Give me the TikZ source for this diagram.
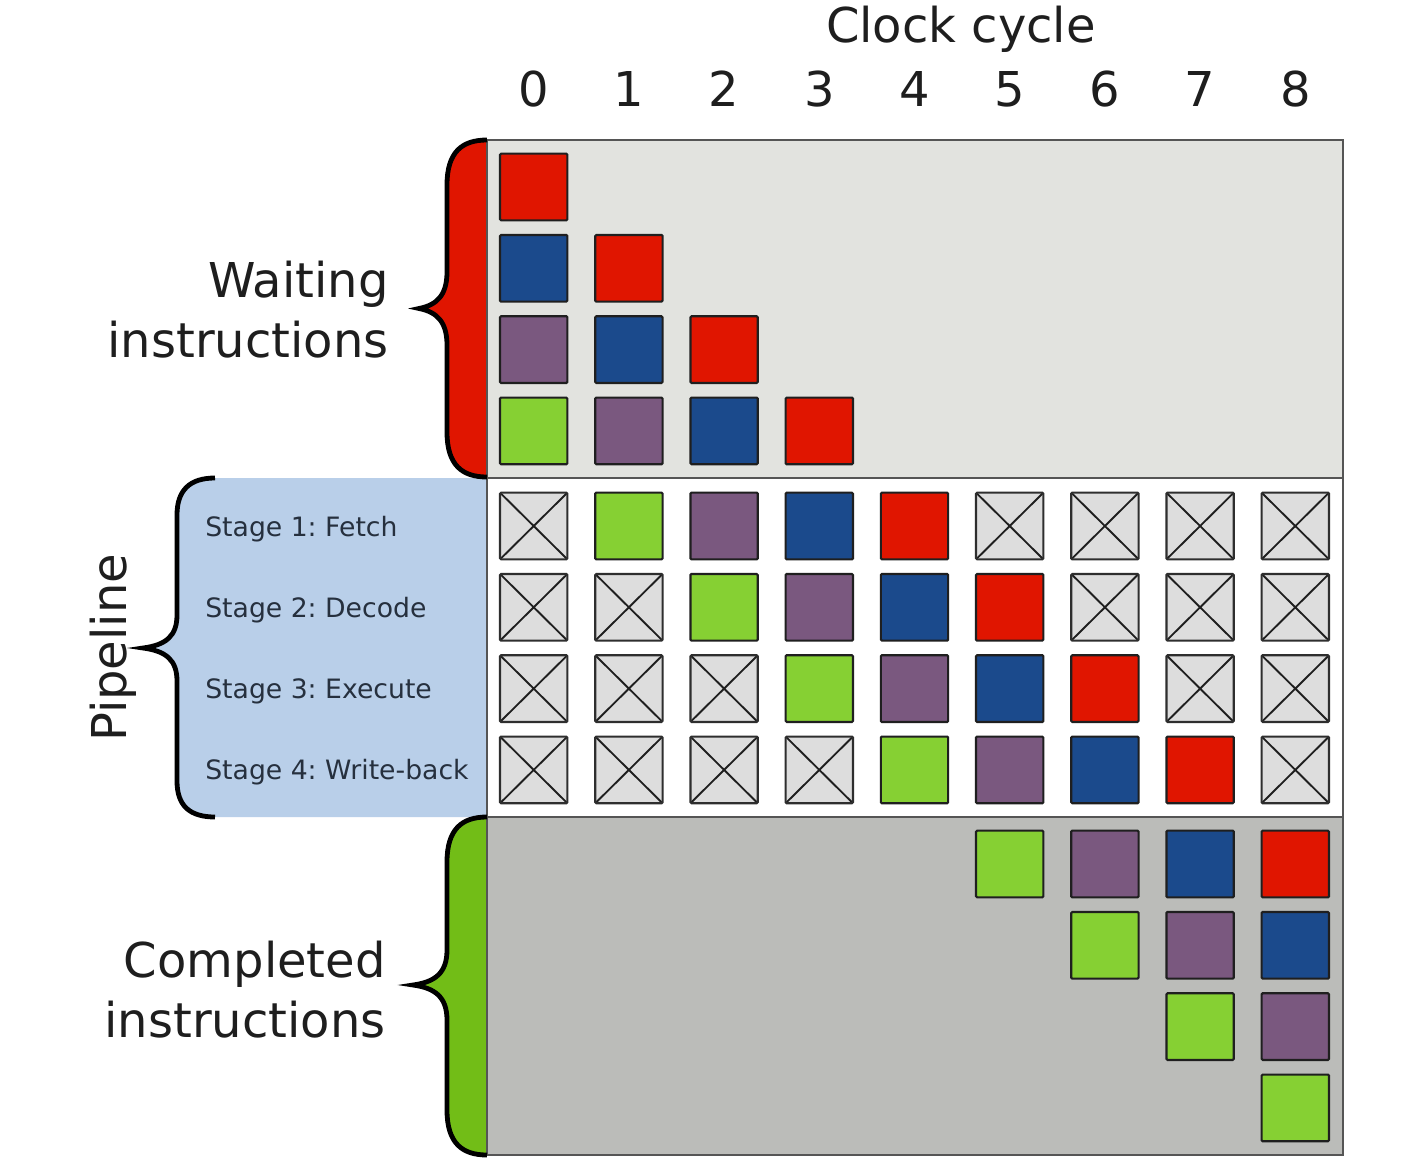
\documentclass[tikz,border=0pt]{standalone}
\usepackage{fontspec}
\setmainfont{DejaVu Sans}
\definecolor{cred}{HTML}{E01500}
\definecolor{cblue}{HTML}{1B4A8C}
\definecolor{cpurple}{HTML}{7A587F}
\definecolor{cgreen}{HTML}{86D033}
\definecolor{bracegreen}{HTML}{72BD17}
\definecolor{labelblue}{HTML}{B9CFE9}
\definecolor{waitbg}{HTML}{E2E3DF}
\definecolor{donebg}{HTML}{BBBCB9}
\definecolor{xbg}{HTML}{DDDDDD}
\definecolor{panelline}{HTML}{555555}
\definecolor{stagetext}{HTML}{26303E}
\definecolor{bigtext}{HTML}{1E1E1E}
\frenchspacing
\begin{document}
\begin{tikzpicture}[x=0.75pt,y=-0.75pt,
  cell/.style={draw=black!88, line width=1.6pt, minimum width=50.5pt, minimum height=50pt, inner sep=0pt, rounded corners=0.8pt},
  xcell/.style={cell, fill=xbg, draw=black!82,
    path picture={\draw[line width=1.4pt, black!88]
      (path picture bounding box.north west) -- (path picture bounding box.south east)
      (path picture bounding box.north east) -- (path picture bounding box.south west);}},
  panel/.style={draw=panelline, line width=2pt},
  bracestroke/.style={draw=black, line width=3.6pt},
  big/.style={font=\fontsize{36}{45}\selectfont, text=bigtext, inner sep=0pt},
  stagelbl/.style={font=\fontsize{20}{24}\selectfont, text=stagetext, inner sep=0pt, anchor=base west}]
\useasboundingbox (0,0) rectangle (1428,1174);
\fill[white] (0,0) rectangle (1428,1174);

% brace fills
\fill[cred] (487,140) .. controls (462,140) and (447,152) .. (447,185) -- (447,272)
  .. controls (447,295) and (437,305) .. (419,308.5)
  .. controls (437,312) and (447,322) .. (447,345) -- (447,432)
  .. controls (447,465) and (462,477) .. (487,477) -- cycle;
\fill[labelblue] (215,478) .. controls (190,478) and (177,490) .. (177,515) -- (177,615)
  .. controls (177,636) and (166,645) .. (143,648)
  .. controls (166,651) and (177,660) .. (177,681) -- (177,781)
  .. controls (177,806) and (190,817) .. (215,817) -- (487,817) -- (487,478) -- cycle;
\fill[bracegreen] (487,817) .. controls (462,817) and (447,829) .. (447,862) -- (447,950)
  .. controls (447,973) and (435,982) .. (413,985)
  .. controls (435,988) and (447,997) .. (447,1020) -- (447,1110)
  .. controls (447,1143) and (462,1155) .. (487,1155) -- cycle;

% panels
\draw[panel, fill=waitbg] (487,140) rectangle (1343,478);
\draw[panel, fill=white] (487,478) rectangle (1343,817);
\draw[panel, fill=donebg] (487,817) rectangle (1343,1155);

% brace strokes
\draw[bracestroke] (487,140) .. controls (462,140) and (447,152) .. (447,185) -- (447,272)
  .. controls (447,295) and (437,305) .. (419,308.5)
  .. controls (437,312) and (447,322) .. (447,345) -- (447,432)
  .. controls (447,465) and (462,477) .. (487,477);
\draw[bracestroke] (215,478) .. controls (190,478) and (177,490) .. (177,515) -- (177,615)
  .. controls (177,636) and (166,645) .. (143,648)
  .. controls (166,651) and (177,660) .. (177,681) -- (177,781)
  .. controls (177,806) and (190,817) .. (215,817);
\draw[bracestroke] (487,817) .. controls (462,817) and (447,829) .. (447,862) -- (447,950)
  .. controls (447,973) and (435,982) .. (413,985)
  .. controls (435,988) and (447,997) .. (447,1020) -- (447,1110)
  .. controls (447,1143) and (462,1155) .. (487,1155);

% header
\node[big, anchor=base] (clock) at (961,42) {Clock cycle};
\foreach \i in {0,...,8}
  \node[big, anchor=base] (d\i) at ({533.7+95.2*\i},106) {\i};

% side labels
\node[big, align=right, anchor=east] (waitlbl) at (389,310) {Waiting\\instructions};
\node[big, align=right, anchor=east] (donelbl) at (386,990) {Completed\\instructions};
\node[big, rotate=90, anchor=base] (pipelbl) at (126,648) {Pipeline};
\node[stagelbl] (s1) at (205,536) {Stage 1: Fetch};
\node[stagelbl] (s2) at (205,617.3) {Stage 2: Decode};
\node[stagelbl] (s3) at (205,698.6) {Stage 3: Execute};
\node[stagelbl] (s4) at (205,779.9) {Stage 4: Write-back};

% waiting instructions
\foreach \i/\j/\c in {0/0/cred, 0/1/cblue, 1/1/cred, 0/2/cpurple, 1/2/cblue, 2/2/cred,
    0/3/cgreen, 1/3/cpurple, 2/3/cblue, 3/3/cred}
  \node[cell, fill=\c] (w-\j-\i) at ({533.7+95.2*\i},{187+81.3*\j}) {};

% pipeline
\foreach \i/\j/\c in {1/0/cgreen, 2/0/cpurple, 3/0/cblue, 4/0/cred,
    2/1/cgreen, 3/1/cpurple, 4/1/cblue, 5/1/cred,
    3/2/cgreen, 4/2/cpurple, 5/2/cblue, 6/2/cred,
    4/3/cgreen, 5/3/cpurple, 6/3/cblue, 7/3/cred}
  \node[cell, fill=\c] (p-\j-\i) at ({533.7+95.2*\i},{526+81.3*\j}) {};
\foreach \i/\j in {0/0, 5/0, 6/0, 7/0, 8/0,
    0/1, 1/1, 6/1, 7/1, 8/1,
    0/2, 1/2, 2/2, 7/2, 8/2,
    0/3, 1/3, 2/3, 3/3, 8/3}
  \node[xcell] (p-\j-\i) at ({533.7+95.2*\i},{526+81.3*\j}) {};

% completed instructions
\foreach \i/\j/\c in {5/0/cgreen, 6/0/cpurple, 7/0/cblue, 8/0/cred,
    6/1/cgreen, 7/1/cpurple, 8/1/cblue,
    7/2/cgreen, 8/2/cpurple, 8/3/cgreen}
  \node[cell, fill=\c] (c-\j-\i) at ({533.7+95.2*\i},{864+81.3*\j}) {};
\end{tikzpicture}
\end{document}
